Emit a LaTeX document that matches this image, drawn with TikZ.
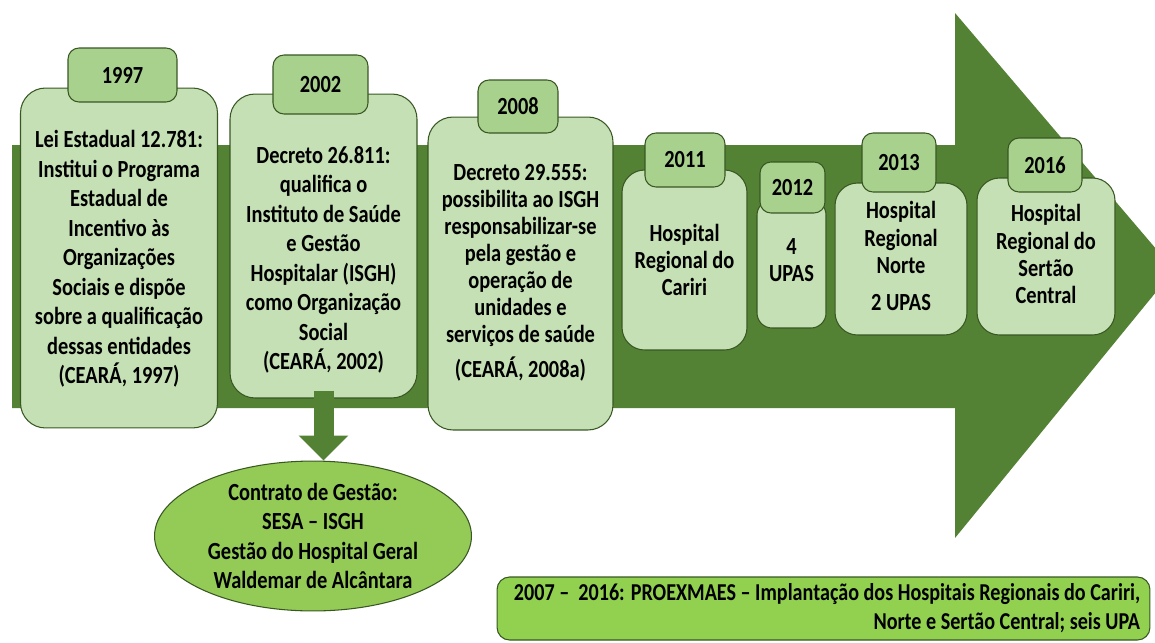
\documentclass[tikz,border=0pt]{standalone}
\usepackage{fontspec}
\setmainfont[FakeStretch=0.83]{Carlito}
\usetikzlibrary{positioning,shapes.geometric,arrows.meta}
\definecolor{darkgreen}{RGB}{84,130,53}
\definecolor{cardgreen}{RGB}{197,224,180}
\definecolor{tabgreen}{RGB}{169,209,142}
\definecolor{edgegreen}{RGB}{56,87,35}
\definecolor{limegreen}{RGB}{146,208,80}
\definecolor{ovalgreen}{RGB}{148,202,86}

\begin{document}
\begin{tikzpicture}[x=0.02cm, y=-0.02cm,
  card/.style={draw=edgegreen, fill=cardgreen, line width=0.6pt, rounded corners=0.5cm, inner sep=0pt},
  tab/.style={draw=edgegreen, fill=tabgreen, line width=0.6pt, rounded corners=0.22cm, inner sep=0pt,
    font=\fontsize{14}{17}\selectfont\bfseries},
  txt/.style={align=center, inner sep=0pt, font=\fontsize{14}{16.8}\selectfont\bfseries},
  small/.style={align=center, inner sep=0pt, font=\fontsize{14}{15.4}\selectfont\bfseries}]
	\clip (0,0) rectangle (1155,642);
	\fill[darkgreen] (12,145) -- (955,145) -- (955,13) -- (1174,270) -- (955,538) -- (955,408) -- (12,408) -- cycle;

	\node[card, minimum width=3.94cm, minimum height=6.8cm] (c1997) at (119,258) {};
	\node[tab, minimum width=2.18cm, minimum height=1.08cm] (t1997) at (122.5,75) {1997};
	\node[txt] (d1997) at (119,259) {Lei Estadual 12.781:\\Institui o Programa\\Estadual de\\Incentivo às\\Organizações\\Sociais e dispõe\\sobre a qualificação\\dessas entidades\\(CEARÁ, 1997)};

	\node[card, minimum width=3.74cm, minimum height=6.08cm] (c2002) at (323.5,246) {};
	\node[tab, minimum width=1.9cm, minimum height=1.18cm] (t2002) at (320.5,84.5) {2002};
	\node[txt] (d2002) at (323.5,260) {Decreto 26.811:\\qualifica o\\Instituto de Saúde\\e Gestão\\Hospitalar (ISGH)\\como Organização\\Social\\(CEARÁ, 2002)};

	\node[card, minimum width=3.7cm, minimum height=6.26cm] (c2008) at (520.5,273.5) {};
	\node[tab, minimum width=1.6cm, minimum height=1.06cm] (t2008) at (518,106.5) {2008};
	\node[small] (d2008) at (520.5,272.5) {Decreto 29.555:\\possibilita ao ISGH\\responsabilizar-se\\pela gestão e\\operação de\\unidades e\\serviços de saúde\\[0.16cm](CEARÁ, 2008a)};

	\node[card, rounded corners=0.45cm, minimum width=2.5cm, minimum height=3.6cm] (c2011) at (684.5,260) {};
	\node[tab, minimum width=1.6cm, minimum height=1.08cm] (t2011) at (685,160) {2011};
	\node[small] (d2011) at (684.5,260) {Hospital\\Regional do\\Cariri};

	\node[card, rounded corners=0.3cm, minimum width=1.38cm, minimum height=2.56cm] (c2012) at (791.5,264) {};
	\node[tab, minimum width=1.3cm, minimum height=1.02cm] (t2012) at (792.5,187.5) {2012};
	\node[small] (d2012) at (791.5,260) {4\\UPAS};

	\node[card, rounded corners=0.45cm, minimum width=2.64cm, minimum height=3.04cm] (c2013) at (901,259) {};
	\node[tab, minimum width=1.48cm, minimum height=1.18cm] (t2013) at (899,162.5) {2013};
	\node[small] (d2013) at (901,256) {Hospital\\Regional\\Norte\\[0.2cm]2 UPAS};

	\node[card, rounded corners=0.45cm, minimum width=2.76cm, minimum height=3.14cm] (c2016) at (1046,256.5) {};
	\node[tab, minimum width=1.48cm, minimum height=1.08cm] (t2016) at (1045,165) {2016};
	\node[small] (d2016) at (1046,254) {Hospital\\Regional do\\Sertão\\Central};

	\node[ellipse, draw=edgegreen, fill=ovalgreen, line width=0.6pt, inner sep=0pt,
		minimum width=6.34cm, minimum height=2.96cm, align=center,
		font=\fontsize{14}{16.8}\selectfont\bfseries] (contract) at (313,536)
		{Contrato de Gestão:\\SESA – ISGH\\Gestão do Hospital Geral\\Waldemar de Alcântara};
	\draw[darkgreen, line width=0.4cm, -{Triangle[width=0.96cm,length=0.5cm]}]
		([yshift=0.16cm]c2002.south) -- (c2002.south |- contract.north);

	\node[draw=edgegreen, fill=limegreen, line width=0.6pt, rounded corners=0.25cm,
		minimum width=13.06cm, minimum height=1.26cm] (proex) at (823.5,608.5) {};
	\node[align=right, anchor=east, inner sep=0pt,
		font=\fontsize{13.8}{16.5}\selectfont\bfseries] (proextxt) at ([xshift=-0.2cm]proex.east)
		{2007 –\ \ 2016: PROEXMAES – Implantação dos Hospitais Regionais do Cariri,\\Norte e Sertão Central; seis UPA};
\end{tikzpicture}
\end{document}
